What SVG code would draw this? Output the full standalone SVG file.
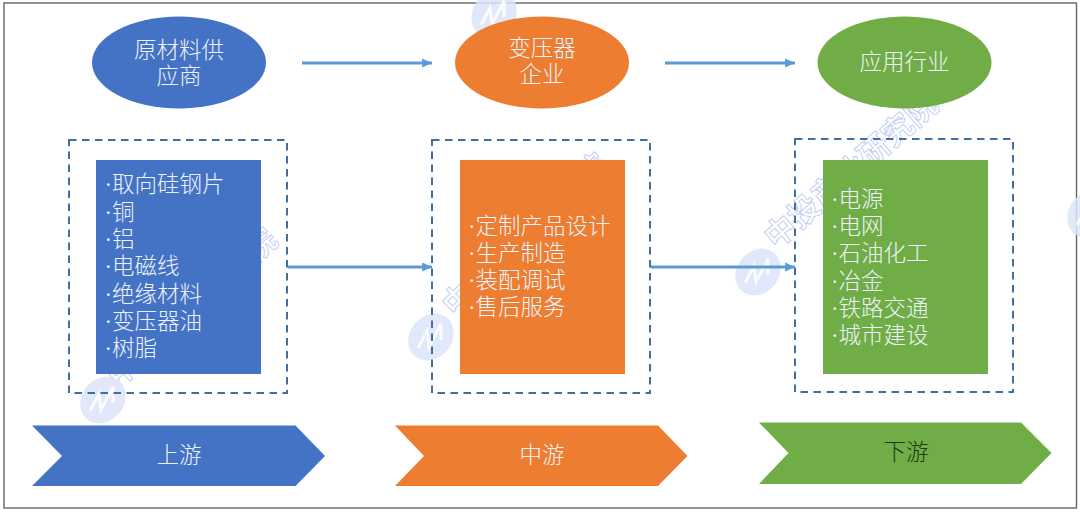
<svg xmlns="http://www.w3.org/2000/svg" width="1080" height="512" viewBox="0 0 1080 512">
<style>
text{font-family:"Liberation Serif","Noto Sans CJK SC",sans-serif;font-size:22.5px;font-weight:300;fill:#eef3fa}
.c{text-anchor:middle}
.dash{fill:none;stroke:#3f6f9e;stroke-width:2;stroke-dasharray:7.500 5.500}
.link{fill:none;stroke:#5b9bd5;stroke-width:2.800;marker-end:url(#arrow)}
.blue{fill:#4472c4}.orange{fill:#ed7d31}.green{fill:#70ad47}
.wm{font-size:31px;font-weight:700;fill:#fff;stroke:#c3d0f3;stroke-width:1}
.logo{fill:#dbe4f8;fill-opacity:.85}
.logoline{fill:none;stroke:#fff;stroke-width:3;stroke-opacity:.85}
</style>
<defs>
<marker id="arrow" markerWidth="10" markerHeight="10" refX="6.400" refY="3" orient="auto" markerUnits="userSpaceOnUse" viewBox="0 0 6.500 6"><path d="M0 0L6.500 3L0 6Z" fill="#5b9bd5"/></marker>
<g id="logo"><ellipse rx="25" ry="21" class="logo" transform="rotate(-50)"/><path class="logoline" d="M-13 11L-4 -6L-2 10L10 -13L10 3"/></g>
</defs>
<rect id="frame" x="4" y="3" width="1072.500" height="505" fill="#fff" stroke="#666" stroke-width="1.400"/>
<g id="watermarks">
<text class="wm" transform="translate(776 250) rotate(-41)">中投产业研究院</text>
<text class="wm" transform="translate(455 318) rotate(-44)">中投产业研究院</text>
<text class="wm" transform="translate(118 388) rotate(-42)">中投产业研究院</text>
<use href="#logo" x="494" y="14"/><use href="#logo" x="431" y="337"/><use href="#logo" x="103" y="400"/><use href="#logo" x="758" y="272"/><use href="#logo" x="1090" y="214"/>
</g>
<g id="node-supplier"><ellipse class="blue" cx="179" cy="62.500" rx="87" ry="46"/><text class="c" x="179" y="58">原材料供</text><text class="c" x="179" y="84">应商</text></g>
<g id="node-maker"><ellipse class="orange" cx="542" cy="62.500" rx="87" ry="46"/><text class="c" x="542" y="56">变压器</text><text class="c" x="542" y="82">企业</text></g>
<g id="node-industry"><ellipse class="green" cx="904.500" cy="62.500" rx="87" ry="46"/><text class="c" x="904.500" y="70">应用行业</text></g>
<g id="node-up-list"><rect class="dash" x="69" y="140" width="218" height="253"/><rect class="blue" x="96" y="160" width="165" height="214"/>
<text x="104.500" y="192">·取向硅钢片</text><text x="104.500" y="220">·铜</text><text x="104.500" y="247">·铝</text><text x="104.500" y="274">·电磁线</text><text x="104.500" y="302">·绝缘材料</text><text x="104.500" y="329">·变压器油</text><text x="104.500" y="356">·树脂</text></g>
<g id="node-mid-list"><rect class="dash" x="432" y="140" width="218" height="253"/><rect class="orange" x="460" y="160" width="165" height="214"/>
<text x="468" y="234">·定制产品设计</text><text x="468" y="261">·生产制造</text><text x="468" y="288">·装配调试</text><text x="468" y="315">·售后服务</text></g>
<g id="node-down-list"><rect class="dash" x="795" y="139" width="218" height="253"/><rect class="green" x="823" y="160" width="165" height="214"/>
<text x="831" y="207">·电源</text><text x="831" y="234">·电网</text><text x="831" y="261">·石油化工</text><text x="831" y="289">·冶金</text><text x="831" y="316">·铁路交通</text><text x="831" y="343">·城市建设</text></g>
<g id="node-up"><path class="blue" d="M32 425.500H295.500L325 456L295.500 486H32L62 456Z"/><text class="c" x="179" y="463">上游</text></g>
<g id="node-mid"><path class="orange" d="M395 425.500H658L687.500 456L658 486H395L424 456Z"/><text class="c" x="542" y="463">中游</text></g>
<g id="node-down"><path class="green" d="M759 422.500H1021L1051.500 453L1021 484H759L788.500 453Z"/><text class="c" x="906" y="460" style="fill:#1d3a12">下游</text></g>
<g id="connectors">
<path class="link" d="M302 63H432"/><path class="link" d="M665 63H795"/>
<path class="link" d="M288 267H432"/><path class="link" d="M651 267H795"/>
</g>
</svg>
